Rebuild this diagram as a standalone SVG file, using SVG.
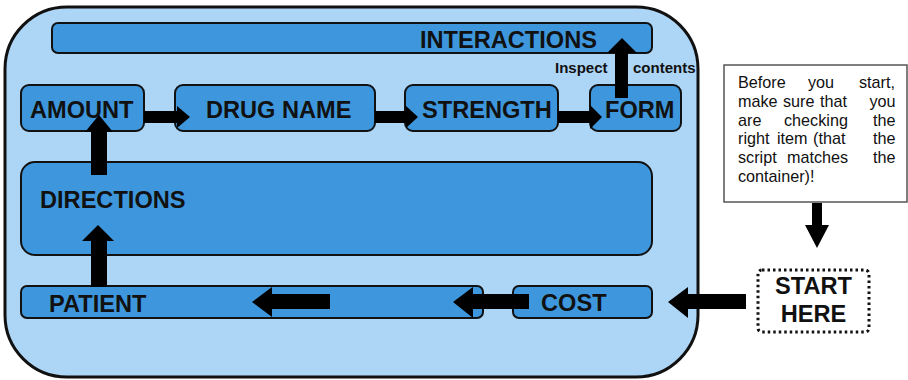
<svg xmlns="http://www.w3.org/2000/svg" width="908" height="380" viewBox="0 0 908 380">
<style>
.box{fill:#3e97dd;stroke:#111;stroke-width:2}
.lbl{font-family:"Liberation Sans",Arial,sans-serif;font-weight:bold;font-size:23.6px;fill:#111}
.small{font-family:"Liberation Sans",Arial,sans-serif;font-weight:bold;font-size:15px;fill:#111}
.note{font-family:"Liberation Sans",Arial,sans-serif;font-size:16.2px;fill:#111}
.arr{fill:#000}
</style>
<rect width="908" height="380" fill="#fff"/>
<g id="container">
<rect x="5" y="7" width="693" height="370" rx="62" ry="62" fill="#add5f6" stroke="#111" stroke-width="3"/>
</g>
<g id="interactions">
<rect class="box" x="52" y="23" width="600" height="30" rx="6"/>
<text class="lbl" x="420" y="48">INTERACTIONS</text>
</g>
<g id="amount">
<rect class="box" x="21" y="85" width="123" height="46" rx="8"/>
<text class="lbl" x="30" y="118">AMOUNT</text>
</g>
<g id="drugname">
<rect class="box" x="175" y="85" width="200" height="46" rx="8"/>
<text class="lbl" x="206" y="118">DRUG NAME</text>
</g>
<g id="strength">
<rect class="box" x="405" y="85" width="153" height="46" rx="8"/>
<text class="lbl" x="422" y="118">STRENGTH</text>
</g>
<g id="form">
<rect class="box" x="590" y="85" width="91" height="46" rx="8"/>
<text class="lbl" x="605" y="118">FORM</text>
</g>
<g id="directions">
<rect class="box" x="21" y="162" width="631" height="93" rx="14"/>
<text class="lbl" x="40" y="208">DIRECTIONS</text>
</g>
<g id="patient">
<rect class="box" x="21" y="286" width="462" height="32" rx="6"/>
<text class="lbl" x="49" y="312">PATIENT</text>
</g>
<g id="cost">
<rect class="box" x="513" y="286" width="139" height="32" rx="6"/>
<text class="lbl" x="541" y="311">COST</text>
</g>
<g id="start">
<rect x="758" y="270" width="111" height="62" rx="4" fill="#fff" stroke="#111" stroke-width="3" stroke-dasharray="2.5 3"/>
<text class="lbl" x="813.5" y="294" text-anchor="middle" font-size="22.8">START</text>
<text class="lbl" x="813.5" y="322" text-anchor="middle" font-size="22.8">HERE</text>
</g>
<g id="note">
<rect x="724" y="65" width="183" height="137" fill="#fff" stroke="#555" stroke-width="1.5"/>
<text class="note" y="88"><tspan x="738">Before</tspan><tspan x="808">you</tspan><tspan x="859">start,</tspan></text>
<text class="note" y="106.8"><tspan x="738">make</tspan><tspan x="783">sure</tspan><tspan x="820">that</tspan><tspan x="869.5">you</tspan></text>
<text class="note" y="125.6"><tspan x="738">are</tspan><tspan x="784">checking</tspan><tspan x="873">the</tspan></text>
<text class="note" y="144.4"><tspan x="738">right</tspan><tspan x="777">item</tspan><tspan x="813">(that</tspan><tspan x="873">the</tspan></text>
<text class="note" y="163.2"><tspan x="738">script</tspan><tspan x="787">matches</tspan><tspan x="873">the</tspan></text>
<text class="note" y="182"><tspan x="738">container)!</tspan></text>
</g>
<g id="connectors">
<polygon class="arr" points="144,111 177,111 177,106 190,117 177,128 177,123 144,123"/>
<polygon class="arr" points="375,111 406,111 406,106 418,117 406,128 406,123 375,123"/>
<polygon class="arr" points="558,111 590,111 590,105 602,117 590,129 590,123 558,123"/>
<polygon class="arr" points="615,98 615,53 607,53 622,38 637,53 628,53 628,98"/>
<text class="small" x="555" y="73">Inspect</text>
<text class="small" x="633" y="73">contents</text>
<polygon class="arr" points="91,175 91,132 85,132 99,115 113,132 107,132 107,175"/>
<polygon class="arr" points="91,287 91,241 82,241 98,225 114,241 107,241 107,287"/>
<polygon class="arr" points="330,294 272,294 272,287 252,302 272,317 272,309 330,309"/>
<polygon class="arr" points="529,294 473,294 473,287 453,302 473,318 473,309 529,309"/>
<polygon class="arr" points="746,294 688,294 688,287 668,302 688,318 688,309 746,309"/>
<polygon class="arr" points="812,203 822,203 822,225 829,225 817,248 805,225 812,225"/>
</g>
</svg>
